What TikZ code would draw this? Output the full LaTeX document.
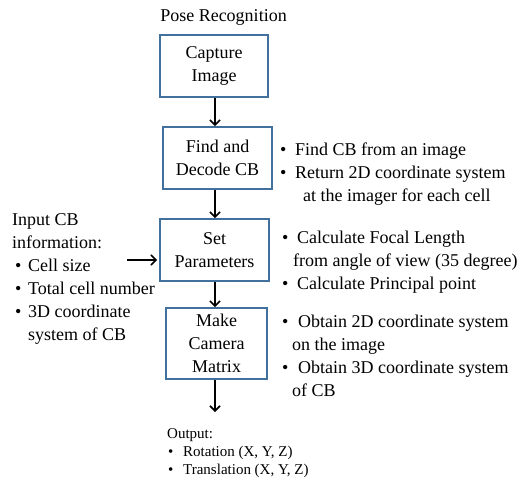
\documentclass[tikz,border=0pt]{standalone}
\usepackage{fontspec}
\setmainfont{Liberation Serif}
\usetikzlibrary{arrows.meta}
\definecolor{boxblue}{HTML}{41719C}
\newcommand\bulletmark[1]{\makebox[#1][l]{\textbullet}}
\begin{document}
\begin{tikzpicture}[x=1pt,y=-1pt,
  stepbox/.style={draw=boxblue, line width=1.8pt, align=center, inner sep=0pt,
    font=\fontsize{18}{23}\selectfont},
  flow/.style={-{Straight Barb[length=5pt,width=10pt]}, line width=1.6pt},
  % multi-line notes: the base anchor sits on the last line's baseline
  note/.style={anchor=base west, align=left, inner sep=0pt,
    font=\fontsize{18}{23}\selectfont},
  smallnote/.style={anchor=base west, align=left, inner sep=0pt,
    font=\fontsize{15}{18}\selectfont}
]
\useasboundingbox (0,0) rectangle (519,482);

% title
\node[inner sep=0pt, font=\fontsize{18}{23}\selectfont] (title) at (223.5,17) {Pose Recognition};

% process steps
\node[stepbox, minimum width=108pt, minimum height=62pt] (cap)  at (214,66)     {Capture\\Image};
\node[stepbox, minimum width=109pt, minimum height=62pt] (find) at (217.5,158)  {Find and\\Decode CB};
\node[stepbox, minimum width=109pt, minimum height=62pt] (set)  at (214.5,250)  {Set\\Parameters};
\node[stepbox, minimum width=101pt, minimum height=71pt] (make) at (216.5,343.5){Make\\Camera\\Matrix};

% connectors
\coordinate (ax) at (215,0);
\coordinate (outend) at (215,412);
\coordinate (instart) at (127,260);
\draw[flow] (cap.south -| ax)  -- (find.north -| ax);
\draw[flow] (find.south -| ax) -- (set.north -| ax);
\draw[flow] (set.south -| ax)  -- (make.north -| ax);
\draw[flow] (make.south -| ax) -- (outend);
\draw[flow, shorten >=2pt] (instart) -- (set.west |- instart);

% notes beside the steps
\node[note] (findnote) at (280,201) {\bulletmark{15pt}Find CB from an image\\
  \bulletmark{15pt}Return 2D coordinate system\\
  \hspace*{23pt}at the imager for each cell};
\node[note] (setnote) at (282,289) {\bulletmark{15pt}Calculate Focal Length\\
  \hspace*{11pt}from angle of view (35 degree)\\
  \bulletmark{15pt}Calculate Principal point};
\node[note] (makenote) at (282,396) {\bulletmark{16pt}Obtain 2D coordinate system\\
  \hspace*{10pt}on the image\\
  \bulletmark{16pt}Obtain 3D coordinate system\\
  \hspace*{10pt}of CB};

% input information
\node[note] (input) at (12,340) {Input CB\\information:\\
  \hspace*{3pt}\bulletmark{13pt}Cell size\\
  \hspace*{3pt}\bulletmark{13pt}Total cell number\\
  \hspace*{3pt}\bulletmark{13pt}3D coordinate\\
  \hspace*{16pt}system of CB};

% output
\node[smallnote] (output) at (167,474) {Output:\\
  \hspace*{1pt}\bulletmark{15pt}Rotation (X, Y, Z)\\
  \hspace*{1pt}\bulletmark{15pt}Translation (X, Y, Z)};
\end{tikzpicture}
\end{document}
